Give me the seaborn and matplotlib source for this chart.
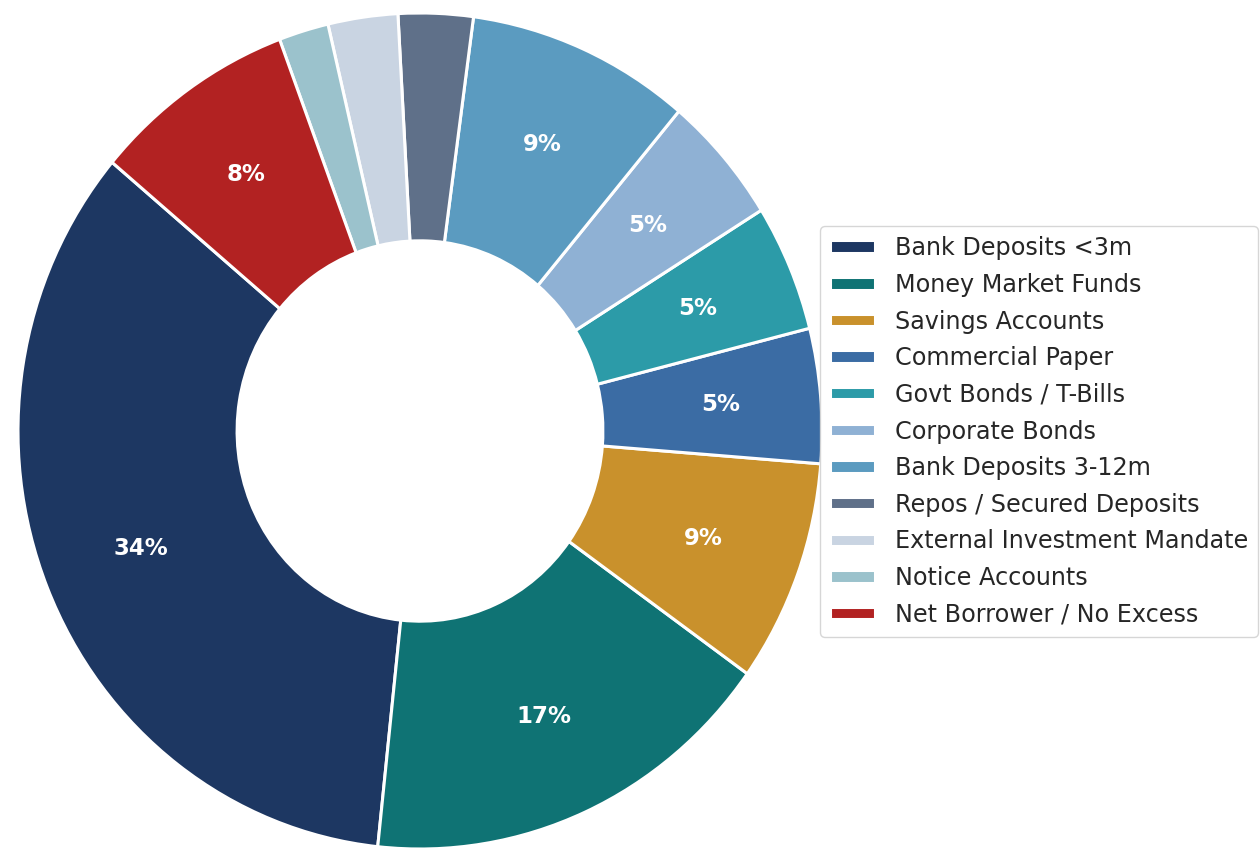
import matplotlib
matplotlib.use("Agg")
import matplotlib.pyplot as plt
import seaborn as sns

sns.set_theme(style="white")
plt.rcParams["font.family"] = ["DejaVu Sans"]

# Allocation of surplus cash by instrument (share of respondents, %)
categories = [
    "Bank Deposits <3m",
    "Money Market Funds",
    "Savings Accounts",
    "Commercial Paper",
    "Govt Bonds / T-Bills",
    "Corporate Bonds",
    "Bank Deposits 3-12m",
    "Repos / Secured Deposits",
    "External Investment Mandate",
    "Notice Accounts",
    "Net Borrower / No Excess",
]
shares = [34.4, 16.8, 8.6, 5.2, 4.9, 5.0, 9.0, 3.0, 2.8, 2.0, 8.2]
colors = [
    "#1d3762", "#0f7374", "#c9912c", "#3b6ca4", "#2c9ba8", "#8fb1d4",
    "#5b9bc0", "#5f7089", "#c9d4e2", "#9bc2cc", "#b22222",
]
palette = sns.color_palette(colors)

fig = plt.figure(figsize=(12.6, 8.48), dpi=100)
ax = fig.add_axes([18 / 1260, -1 / 848, 804 / 1260, 836 / 848])

wedges, texts, autotexts = ax.pie(
    shares,
    colors=palette,
    startangle=140,
    counterclock=True,
    autopct=lambda p: f"{p:.0f}%" if p > 4 else "",
    pctdistance=0.75,
    wedgeprops=dict(width=0.545, edgecolor="white", linewidth=2.2),
    textprops=dict(color="white", fontsize=16.5, fontweight="bold"),
)
ax.set_aspect("auto")
ax.set_xlim(-1, 1)
ax.set_ylim(-1, 1)
ax.axis("off")

fig.legend(
    wedges,
    categories,
    loc="center left",
    bbox_to_anchor=(808 / 1260, (848 - 431.5) / 848),
    bbox_transform=fig.transFigure,
    fontsize=17.2,
    frameon=True,
    handlelength=1.9,
    handleheight=0.42,
    handletextpad=0.82,
    borderpad=0.42,
    labelspacing=0.53,
)

fig.savefig("out.png", dpi=100)
